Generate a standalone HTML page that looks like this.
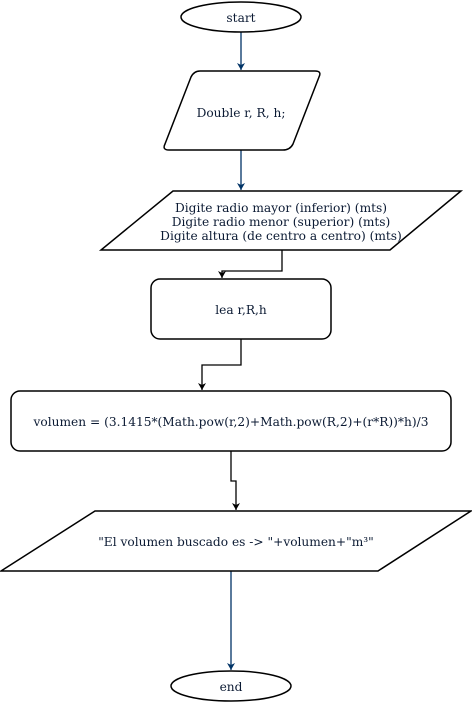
<!DOCTYPE html>
<html><head><meta charset="utf-8"><style>
html,body{margin:0;padding:0;background:#fff;width:472px;height:702px;overflow:hidden}
text{font-family:"DejaVu Serif","Liberation Serif",serif;font-size:12.2px;fill:#0b1a33}
</style></head><body>
<svg width="472" height="702" viewBox="0 0 472 702" xmlns="http://www.w3.org/2000/svg">
<defs>
<marker id="an" markerWidth="8" markerHeight="8" refX="7" refY="4" orient="auto" markerUnits="userSpaceOnUse"><path d="M0,0 L7,4 L0,8 L2,4 Z" fill="#003366"/></marker>
<marker id="ab" markerWidth="8" markerHeight="8" refX="7" refY="4" orient="auto" markerUnits="userSpaceOnUse"><path d="M0,0 L7,4 L0,8 L2,4 Z" fill="#000"/></marker>
</defs>
<g fill="none" stroke-width="1.3">
<line x1="241" y1="32" x2="241" y2="70" stroke="#003366" marker-end="url(#an)"/>
<line x1="241" y1="150" x2="241" y2="190" stroke="#003366" marker-end="url(#an)"/>
<polyline points="282,250 282,271 222,271 222,278" stroke="#000" marker-end="url(#ab)"/>
<polyline points="241,339 241,365 202,365 202,390" stroke="#000" marker-end="url(#ab)"/>
<polyline points="231,451 231,481 236,481 236,510" stroke="#000" marker-end="url(#ab)"/>
<line x1="231" y1="571" x2="231" y2="670" stroke="#003366" marker-end="url(#an)"/>
</g>
<g fill="#fff" stroke="#000" stroke-width="1.5">
<ellipse cx="241" cy="17" rx="60" ry="15"/>
<path d="M200,71 L315,71 Q322,71 319,77 L293,144 Q290,150 283,150 L169,150 Q162,150 165,144 L191,77 Q194,71 200,71 Z"/>
<polygon points="173,191 461,191 390,250 101,250"/>
<rect x="151" y="279" width="180" height="60" rx="9"/>
<rect x="11" y="391" width="440" height="60" rx="9"/>
<polygon points="95,511 471,511 378,571 1,571"/>
<ellipse cx="231" cy="686" rx="60" ry="15"/>
</g>
<g text-anchor="middle">
<text x="241" y="22">start</text>
<text x="241" y="117">Double r, R, h;</text>
<text x="281" y="212">Digite radio mayor (inferior) (mts)</text>
<text x="281" y="226">Digite radio menor (superior) (mts)</text>
<text x="281" y="240">Digite altura (de centro a centro) (mts)</text>
<text x="241" y="314">lea r,R,h</text>
<text x="231" y="426">volumen = (3.1415*(Math.pow(r,2)+Math.pow(R,2)+(r*R))*h)/3</text>
<text x="236" y="546">"El volumen buscado es -&gt; "+volumen+"m³"</text>
<text x="231" y="691">end</text>
</g>
</svg>
</body></html>
